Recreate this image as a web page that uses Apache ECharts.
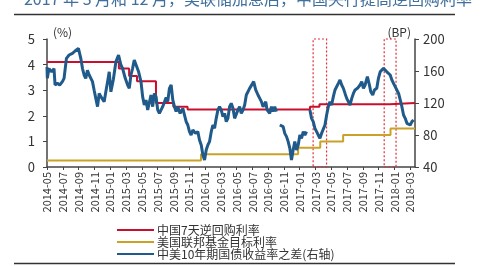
<!DOCTYPE html>
<html>
<head>
<meta charset="utf-8">
<script src="https://cdn.jsdelivr.net/npm/echarts@6/dist/echarts.min.js"></script>
<style>
  html, body { margin: 0; padding: 0; background: #fff; }
  #chart { width: 487px; height: 266px; }
</style>
</head>
<body>
<div id="chart"></div>
<script>
// x 轴按月计：0 = 2014-05
const startYear = 2014;
const startMonth = 5;

const seriesNames = ['中国7天逆回购利率', '美国联邦基金目标利率', '中美10年期国债收益率之差(右轴)'];

// 中国7天逆回购利率 (%), [月, 值]
const cnRepo = [
  [0, 4.1], [9.1, 3.85], [10.4, 3.55], [11.4, 3.35], [13.8, 2.5],
  [16.0, 2.35], [17.8, 2.25], [33.3, 2.35], [34.5, 2.45], [43.4, 2.5], [46.6, 2.5]
];

// 美国联邦基金目标利率 (%)
const usFed = [
  [0, 0.25], [19.5, 0.5], [31.8, 0.75], [34.6, 1.0], [37.5, 1.25], [43.5, 1.5], [46.6, 1.5]
];

// 中美10年期国债收益率之差 (BP)
const spread = [
  [0, 165], [0.04, 151], [0.25, 163], [0.59, 159], [0.89, 163], [1.02, 142.5], [1.31, 144.6],
  [1.61, 142.5], [1.95, 146.7], [2.16, 150.8], [2.46, 175.8], [2.8, 180], [3.22, 182],
  [3.56, 185], [3.98, 188.3], [4.28, 175.8], [4.49, 163.3], [4.7, 155], [4.91, 150.8],
  [5.12, 161], [5.34, 155], [5.76, 146.7], [5.97, 136], [6.18, 125.8], [6.4, 115.4],
  [6.61, 132], [6.82, 128], [7.03, 130], [7.24, 121.7], [7.45, 134], [7.67, 146.7],
  [7.88, 159], [8.09, 134], [8.39, 148.7], [8.73, 171.7], [9.06, 180], [9.36, 167.5],
  [9.57, 163.3], [9.91, 150.8], [10.21, 142.5], [10.42, 138.3], [10.63, 155], [10.84, 163.3],
  [11.05, 173.8], [11.27, 175.8], [11.6, 159], [11.9, 146.7], [12.11, 128], [12.32, 117.5],
  [12.54, 123.8], [12.75, 111.3], [13.17, 130], [13.38, 115.4], [13.6, 132], [13.81, 128],
  [14.02, 111.3], [14.23, 107], [14.65, 115.4], [15.08, 127], [15.29, 121.7], [15.5, 138.3],
  [15.72, 142.5], [15.93, 123.8], [16.14, 115.4], [16.35, 109.2], [16.56, 115.4], [16.86, 107],
  [17.2, 113.3], [17.41, 105], [17.62, 96.7], [17.83, 92.5], [18.04, 84.2], [18.25, 80],
  [18.47, 86.3], [18.81, 82], [19.1, 84.2], [19.31, 73.8], [19.53, 67.5], [19.74, 55],
  [19.95, 48.8], [20.16, 61.3], [20.37, 67.5], [20.58, 71.7], [20.8, 84.2], [21.01, 92.5],
  [21.22, 88.3], [21.43, 100.8], [21.64, 111.3], [21.85, 115.4], [22.06, 111.3], [22.28, 103],
  [22.49, 107], [22.7, 96.7], [22.91, 100.8], [23.12, 115.4], [23.33, 119.6], [23.55, 113.3],
  [23.76, 100.8], [23.97, 103], [24.18, 111.3], [24.39, 115.4], [24.6, 107], [24.82, 111.3],
  [25.03, 117.5], [25.24, 130], [25.45, 130], [25.66, 138.3], [25.87, 136.3], [26.17, 146.7],
  [26.43, 136.3], [26.72, 130], [26.94, 125.8], [27.15, 121.7], [27.36, 115.4], [27.7, 121.7],
  [27.87, 111.3], [28.2, 107], [28.42, 115.4], [28.63, 109.2], [28.84, 115.4], [29.05, 109.2],
  [29.25, null],
  [29.48, 92.5], [29.69, 94.6], [29.9, 90.4], [30.11, 82], [30.33, 78], [30.54, 71.7],
  [30.75, 63.3], [30.96, 48.8], [31.17, 61.3], [31.38, 71.7], [31.6, 61.3], [31.81, 67.5],
  [32.02, 80], [32.23, 75.8], [32.45, 84.2], [32.66, 80], [32.87, 84.2],
  [33.05, null],
  [33.29, 111.3], [33.5, 100.8], [33.71, 96.7], [33.93, 88.3], [34.14, 84.2], [34.35, 80],
  [34.56, 75.8], [34.77, 82], [34.99, 84.2], [35.2, 92.5], [35.41, 105], [35.62, 115.4],
  [35.83, 121.7], [36.04, 117.5], [36.26, 128], [36.47, 136.3], [36.68, 138.3], [36.89, 144.6],
  [37.1, 148.8], [37.32, 142.5], [37.53, 138.3], [37.74, 132], [37.95, 125.8], [38.16, 121.7],
  [38.37, 117.5], [38.59, 125.8], [38.8, 132], [39.01, 136.3], [39.31, 138.3], [39.64, 142.5],
  [39.86, 146.7], [40.07, 138.3], [40.28, 142.5], [40.57, 153], [40.83, 142.5], [41.0, 134],
  [41.25, 130], [41.46, 136.3], [41.76, 138.3], [41.97, 150.8], [42.19, 159], [42.4, 157],
  [42.61, 163.3], [42.82, 165.4], [43.03, 159], [43.24, 157], [43.46, 155], [43.67, 148.8],
  [43.88, 144.6], [44.09, 140.4], [44.3, 136.3], [44.52, 132], [44.73, 123.8], [44.94, 115.4],
  [45.15, 105], [45.36, 100.8], [45.58, 94.6], [45.79, 96.7], [46.0, 92.5], [46.21, 96.7],
  [46.42, 98.8]
];

// 红色虚线框（加息时点）, [起始月, 结束月]
const hikeWindows = [[33.7, 35.4], [42.7, 44.2]];

const chartTitle = '2017 年 3 月和 12 月，美联储加息后，中国央行提高逆回购利率';

const fontFamily = '"Noto Sans CJK SC", "Liberation Sans", sans-serif';

const monthLabel = (v) => {
  if (Math.abs(v - Math.round(v)) > 1e-6) return '';
  const total = startMonth - 1 + Math.round(v);
  const y = startYear + Math.floor(total / 12);
  const m = (total % 12) + 1;
  return y + '-' + (m < 10 ? '0' + m : m);
};

const myChart = echarts.init(document.getElementById('chart'));

const option = {
  animation: false,
  color: ['#c8102e', '#c9a227', '#1f5a8a'],
  textStyle: { fontFamily: fontFamily },
  grid: { left: 47, right: 72, top: 39, bottom: 99 },
  graphic: [
    {
      type: 'text',
      style: {
        text: chartTitle,
        x: 248, y: 7,
        textAlign: 'center',
        textVerticalAlign: 'bottom',
        font: '16px ' + fontFamily,
        fill: '#3f6f9c'
      }
    },
    { type: 'line', shape: { x1: 14, y1: 14.5, x2: 455, y2: 14.5 }, style: { stroke: '#333', lineWidth: 1.5 } },
    { type: 'line', shape: { x1: 14, y1: 263.5, x2: 455, y2: 263.5 }, style: { stroke: '#333', lineWidth: 1.5 } }
  ],
  legend: {
    orient: 'vertical',
    left: 117,
    top: 224,
    height: 60,
    padding: 0,
    itemWidth: 37,
    itemHeight: 2,
    itemGap: 0,
    icon: 'rect',
    textStyle: { fontSize: 12, lineHeight: 12, color: '#333', padding: [0, 0, 0, -2] },
    data: seriesNames
  },
  xAxis: {
    type: 'value',
    min: 0,
    max: 46.6,
    interval: 2,
    splitLine: { show: false },
    axisLine: { lineStyle: { color: '#444', width: 1.5 } },
    axisTick: { show: true, length: 3, lineStyle: { color: '#444' } },
    axisLabel: {
      rotate: 90,
      color: '#333',
      fontSize: 11,
      margin: 5,
      showMaxLabel: false,
      formatter: monthLabel
    }
  },
  yAxis: [
    {
      type: 'value',
      min: 0, max: 5, interval: 1,
      name: '(%)',
      nameGap: 1,
      nameTextStyle: { color: '#333', fontSize: 12, align: 'left', padding: [0, 0, 0, 6] },
      splitLine: { show: false },
      axisLine: { show: true, lineStyle: { color: '#444', width: 1.5 } },
      axisTick: { show: true, length: 4, lineStyle: { color: '#444' } },
      axisLabel: { color: '#333', fontSize: 13, margin: 12 }
    },
    {
      type: 'value',
      min: 40, max: 200, interval: 40,
      name: '(BP)',
      nameGap: 1,
      nameTextStyle: { color: '#333', fontSize: 12, align: 'right', padding: [0, 4, 0, 0] },
      splitLine: { show: false },
      axisLine: { show: true, lineStyle: { color: '#444', width: 1.5 } },
      axisTick: { show: true, length: 4, lineStyle: { color: '#444' } },
      axisLabel: { color: '#333', fontSize: 13, margin: 8 }
    }
  ],
  series: [
    {
      name: seriesNames[0],
      type: 'line',
      yAxisIndex: 0,
      step: 'end',
      showSymbol: false,
      lineStyle: { width: 2 },
      data: cnRepo,
      z: 2
    },
    {
      name: seriesNames[1],
      type: 'line',
      yAxisIndex: 0,
      step: 'end',
      showSymbol: false,
      lineStyle: { width: 2 },
      data: usFed,
      z: 2
    },
    {
      name: seriesNames[2],
      type: 'line',
      yAxisIndex: 1,
      showSymbol: false,
      connectNulls: false,
      lineStyle: { width: 3 },
      data: spread,
      z: 3,
      markArea: {
        silent: true,
        itemStyle: {
          color: 'rgba(0,0,0,0)',
          borderColor: '#e0303a',
          borderWidth: 1.2,
          borderType: [2, 2]
        },
        data: hikeWindows.map(w => [{ xAxis: w[0] }, { xAxis: w[1] }])
      }
    }
  ]
};

myChart.setOption(option);
</script>
</body>
</html>
